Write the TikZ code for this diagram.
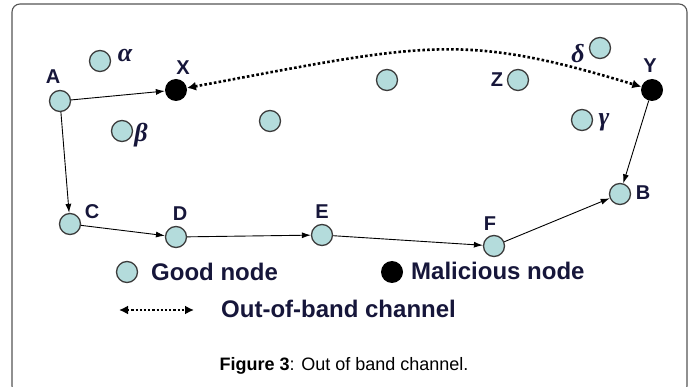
\documentclass[tikz,border=0pt]{standalone}
\usepackage{fontspec}
\setmainfont{Liberation Sans}
\newfontfamily\greekfont{Liberation Serif}
\usetikzlibrary{arrows.meta}
\definecolor{goodfill}{HTML}{B4DCDC}
\definecolor{goodline}{HTML}{3C3C3C}
\definecolor{labelcol}{HTML}{16163A}
\definecolor{framecol}{HTML}{555555}
\tikzset{
  good/.style={circle, draw=goodline, line width=1.3pt, fill=goodfill, minimum size=21pt, inner sep=0pt},
  bad/.style={circle, fill=black, minimum size=22pt, inner sep=0pt},
  lbl/.style={inner sep=0pt, text=labelcol, font=\fontsize{20}{20}\selectfont\bfseries},
  glbl/.style={inner sep=0pt, text=labelcol, font=\fontsize{26}{26}\selectfont\greekfont\bfseries\itshape},
  link/.style={line width=0.9pt, -{Latex[length=9pt,width=6pt]}},
  oob/.style={line width=2.6pt, dash pattern=on 2.6pt off 2.2pt,
    {Latex[length=9pt,width=9pt]}-{Latex[length=9pt,width=9pt]}},
  legtext/.style={inner sep=0pt, anchor=base west, text=labelcol, font=\fontsize{24}{24}\selectfont\bfseries},
}
\begin{document}
\begin{tikzpicture}[x=1pt,y=-1pt]
  \useasboundingbox (0,0) rectangle (696,387);
  \begin{scope}
    \clip (0,0) rectangle (696,387);
    \draw[framecol, line width=1.1pt, rounded corners=8pt] (12,4) rectangle (687,394);
  \end{scope}

  % nodes of the network
  \node[good] (alpha) at (100,61) {};
  \node[good] (A) at (60,101) {};
  \node[bad]  (X) at (176,90) {};
  \node[good] (beta) at (122,131) {};
  \node[good] (n1) at (270,121) {};
  \node[good] (n2) at (387,80) {};
  \node[good] (Z) at (518,80) {};
  \node[good] (delta) at (600,48) {};
  \node[bad]  (Y) at (652,90) {};
  \node[good] (gamma) at (582,120) {};
  \node[good] (B) at (620,194) {};
  \node[good] (C) at (70,224) {};
  \node[good] (D) at (176,237) {};
  \node[good] (E) at (322,235) {};
  \node[good] (F) at (494,246) {};

  % node labels
  \node[lbl] (lA) at (53,77) {A};
  \node[lbl] (lX) at (183,68) {X};
  \node[lbl] (lY) at (650,66) {Y};
  \node[lbl] (lZ) at (497,80) {Z};
  \node[lbl] (lB) at (643,193) {B};
  \node[lbl] (lC) at (92,212) {C};
  \node[lbl] (lD) at (180,214) {D};
  \node[lbl] (lE) at (322,212) {E};
  \node[lbl] (lF) at (490,224) {F};
  \node[glbl] (la) at (125,56) {α};
  \node[glbl] (lb) at (141,135) {β};
  \node[glbl] (ld) at (578,54) {δ};
  \node[glbl] (lg) at (604,122) {γ};

  % route through the network
  \draw[link] (A) -- (X);
  \draw[link] (A) -- (C);
  \draw[link] (C) -- (D);
  \draw[link] (D) -- (E);
  \draw[link] (E) -- (F);
  \draw[link] (F) -- (B);
  \draw[link] (Y) -- (B);

  % out-of-band channel between the malicious nodes
  \draw[oob] (X) .. controls (427,43) and (461,32) .. (Y);

  % legend
  \node[good] (kgood) at (127,272) {};
  \node[legtext] (tgood) at (151,281) {Good node};
  \node[bad] (kbad) at (392,272) {};
  \node[legtext] (tbad) at (411,280) {Malicious node};
  \coordinate (k1) at (119,310);
  \coordinate (k2) at (194,310);
  \draw[line width=2.2pt, dash pattern=on 2.2pt off 2pt,
    {Latex[length=9pt,width=9pt]}-{Latex[length=9pt,width=9pt]}] (k1) -- (k2);
  \node[legtext] (toob) at (221,318) {Out-of-band channel};

  % caption
  \node[inner sep=0pt, anchor=base, font=\fontsize{18}{18}\selectfont] (cap) at (344,370)
    {\textbf{Figure 3}: Out of band channel.};
\end{tikzpicture}
\end{document}
